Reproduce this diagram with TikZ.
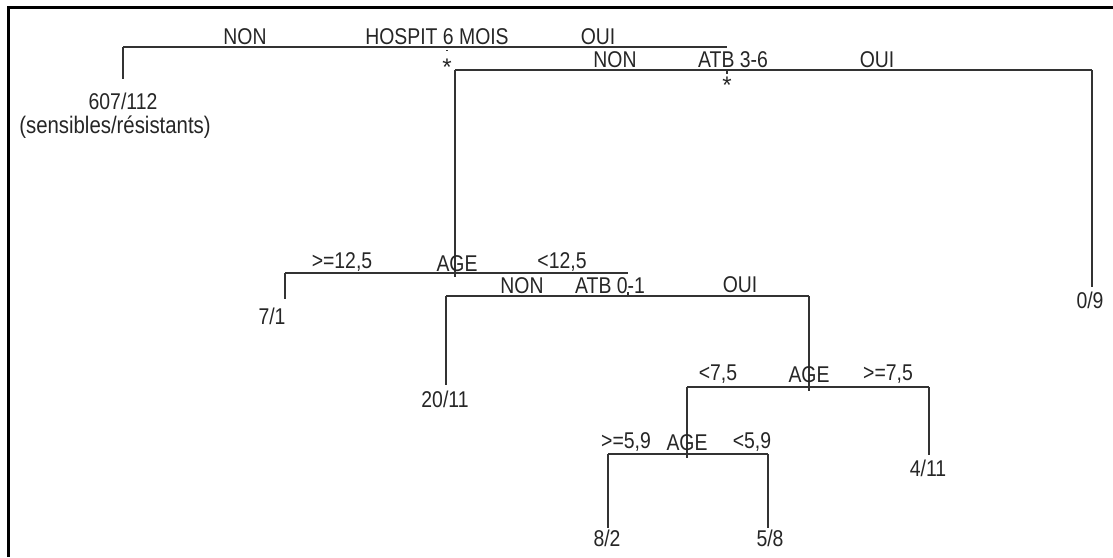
\documentclass[tikz,border=0pt]{standalone}
\usepackage{graphicx}
\usepackage{fontspec}
\setmainfont{Liberation Sans}
\newcommand\tallt[1]{\scalebox{0.97}[1.14]{#1}}
\begin{document}
\begin{tikzpicture}[x=1pt,y=-1pt,
  branch/.style={draw=black!80,line width=1.4pt},
  stub/.style={draw=black!80,line width=1.2pt},
  lbl/.style={inner sep=0pt,anchor=center,text=black!85,
    font=\fontsize{20}{24}\selectfont},
  small/.style={inner sep=0pt,anchor=center,text=black!85,
    font=\fontsize{21}{24}\selectfont},
  star/.style={inner sep=0pt,anchor=center,text=black!85,font=\fontsize{24}{26}\selectfont}]
\useasboundingbox (0,0) rectangle (1113,557);
\fill[white] (0,0) rectangle (1113,557);
% frame
\draw[line width=3pt,black] (8.5,557) -- (8.5,7.5) -- (1113,7.5);

% ---- split: HOSPIT 6 MOIS
\coordinate (s1) at (447,47);
\coordinate (s1L) at (123,47);
\coordinate (s1R) at (727,47);
\coordinate (s1Lend) at (123,79);
\draw[branch] (s1L) -- (s1R);
\draw[branch] (s1L) -- (s1Lend);
\draw[stub,dotted] (s1) -- ++(0,5);
\node[lbl] (t1a) at (245,37) {\tallt{NON}};
\node[lbl] (t1b) at (437,37) {\tallt{HOSPIT 6 MOIS}};
\node[lbl] (t1c) at (598,37) {\tallt{OUI}};
\node[star] (st1) at (447,67) {*};
\node[lbl] (leaf1) at (123,101) {\tallt{607/112}};
\node[small] (leaf1b) at (115,127) {\tallt{(sensibles/résistants)}};

% ---- split: ATB 3-6
\coordinate (s2) at (727,70);
\coordinate (s2L) at (455,70);
\coordinate (s2R) at (1092,70);
\coordinate (s2Rend) at (1092,287);
\draw[branch] (s2L) -- (s2R);
\draw[branch] (s2R) -- (s2Rend);
\draw[stub] (s2) -- ++(0,4);
\node[lbl] (t2a) at (615,60) {\tallt{NON}};
\node[lbl] (t2b) at (733,60) {\tallt{ATB 3-6}};
\node[lbl] (t2c) at (877,60) {\tallt{OUI}};
\node[star] (st2) at (727,85) {*};
\node[lbl] (leaf2) at (1090,300) {\tallt{0/9}};

% ---- split: AGE 12,5
\coordinate (s3) at (455,273);
\coordinate (s3L) at (285,273);
\coordinate (s3R) at (628,273);
\coordinate (s3Lend) at (285,299);
\draw[branch] (s2L) -- (s3);
\draw[branch] (s3L) -- (s3R);
\draw[branch] (s3L) -- (s3Lend);
\draw[stub] (s3) -- ++(0,4);
\node[lbl] (t3a) at (342,262) {\tallt{>=12,5}};
\node[lbl] (t3b) at (457,264) {\tallt{AGE}};
\node[lbl] (t3c) at (562,262) {\tallt{<12,5}};
\node[lbl] (leaf3) at (272,316) {\tallt{7/1}};

% ---- split: ATB 0-1
\coordinate (s4) at (628,296);
\coordinate (s4L) at (446,296);
\coordinate (s4R) at (809,296);
\coordinate (s4Lend) at (446,385);
\draw[branch] (s4L) -- (s4R);
\draw[branch] (s4L) -- (s4Lend);
\draw[stub] (s4) -- ++(0,-4);
\node[lbl] (t4a) at (522,286) {\tallt{NON}};
\node[lbl] (t4b) at (610,286) {\tallt{ATB 0-1}};
\node[lbl] (t4c) at (740,285) {\tallt{OUI}};
\node[lbl] (leaf4) at (445,399) {\tallt{20/11}};

% ---- split: AGE 7,5
\coordinate (s5) at (809,387);
\coordinate (s5L) at (687,387);
\coordinate (s5R) at (929,387);
\coordinate (s5Rend) at (929,455);
\draw[branch] (s4R) -- (s5);
\draw[branch] (s5L) -- (s5R);
\draw[branch] (s5R) -- (s5Rend);
\draw[stub] (s5) -- ++(0,4);
\node[lbl] (t5a) at (718,374) {\tallt{<7,5}};
\node[lbl] (t5b) at (809,375) {\tallt{AGE}};
\node[lbl] (t5c) at (888,374) {\tallt{>=7,5}};
\node[lbl] (leaf5) at (928,468) {\tallt{4/11}};

% ---- split: AGE 5,9
\coordinate (s6) at (687,454);
\coordinate (s6L) at (608,454);
\coordinate (s6R) at (768,454);
\coordinate (s6Lend) at (608,528);
\coordinate (s6Rend) at (768,528);
\draw[branch] (s5L) -- (s6);
\draw[branch] (s6L) -- (s6R);
\draw[branch] (s6L) -- (s6Lend);
\draw[branch] (s6R) -- (s6Rend);
\draw[stub] (s6) -- ++(0,4);
\node[lbl] (t6a) at (626,442) {\tallt{>=5,9}};
\node[lbl] (t6b) at (687,443) {\tallt{AGE}};
\node[lbl] (t6c) at (752,442) {\tallt{<5,9}};
\node[lbl] (leaf6a) at (607,538) {\tallt{8/2}};
\node[lbl] (leaf6b) at (770,538) {\tallt{5/8}};
\end{tikzpicture}
\end{document}
